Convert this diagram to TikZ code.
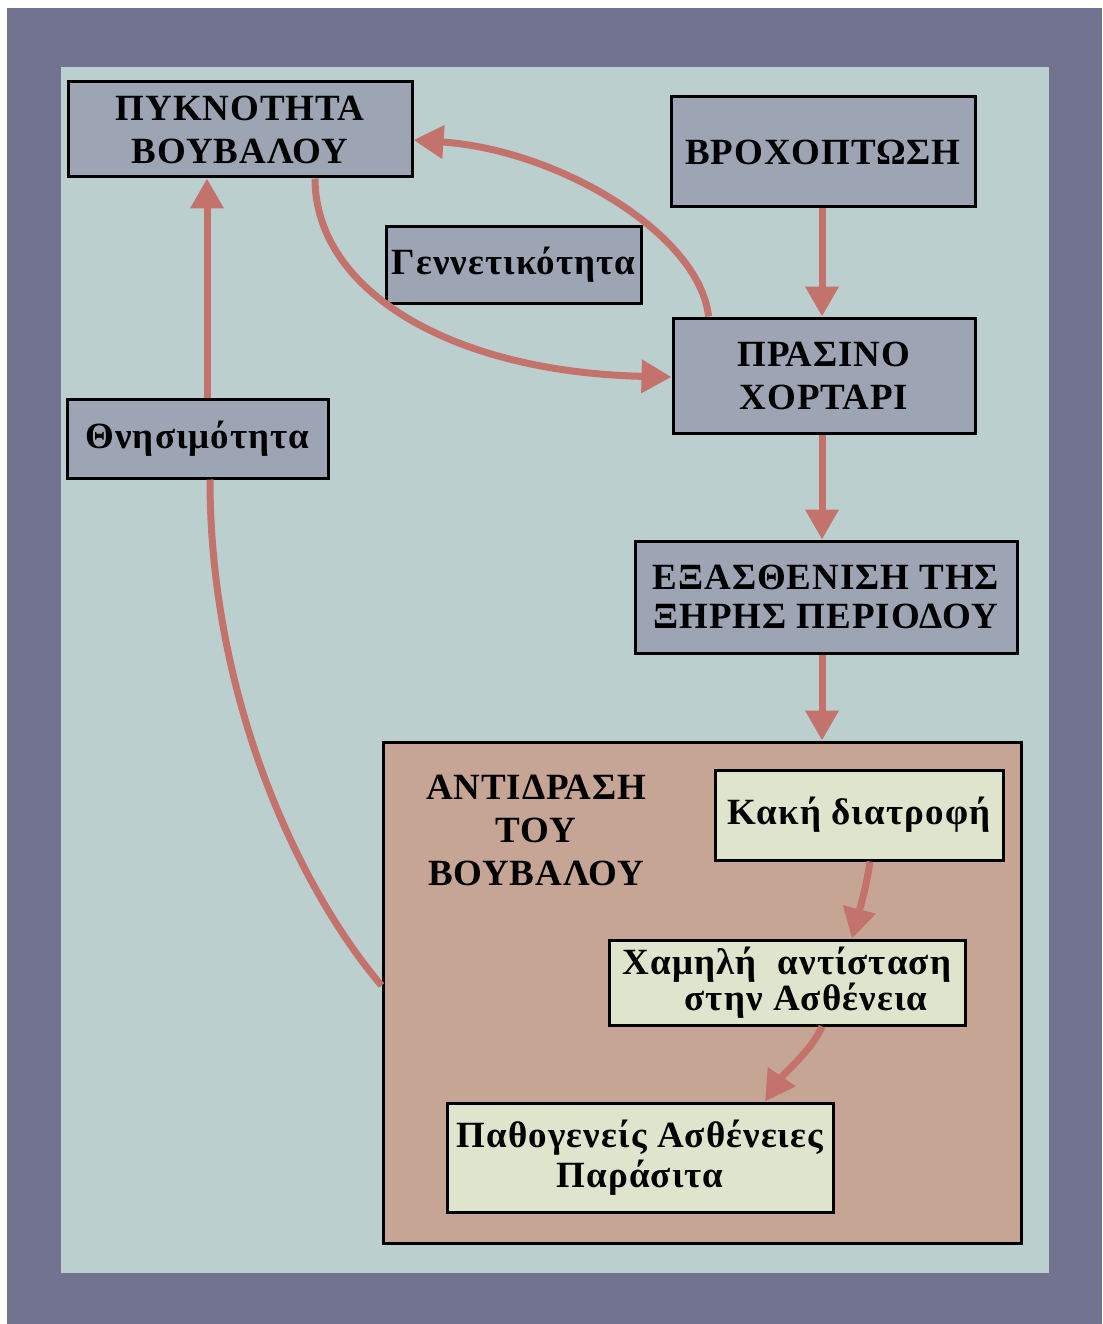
\documentclass[tikz,border=0pt]{standalone}
\usepackage{fontspec}
\setmainfont{Liberation Serif}
\usetikzlibrary{arrows.meta,calc}
\definecolor{outerc}{HTML}{727390}
\definecolor{panelc}{HTML}{BCCFCF}
\definecolor{boxc}{HTML}{9DA5B5}
\definecolor{arrowc}{HTML}{C3736C}
\definecolor{reactc}{HTML}{C6A595}
\definecolor{greenc}{HTML}{DEE5CC}
\tikzset{
  blk/.style={draw=black, line width=3pt, fill=boxc, inner sep=0pt, align=center},
  grn/.style={blk, fill=greenc},
  capsfont/.style={font=\fontsize{37}{43}\selectfont\bfseries\addfontfeatures{LetterSpace=2.5}},
  lowfont/.style={font=\fontsize{37}{40}\selectfont\bfseries\addfontfeatures{LetterSpace=3}},
  arr/.style={draw=arrowc, line width=7pt, -{Triangle[width=32pt,length=30pt]}},
  plainarr/.style={draw=arrowc, line width=7pt},
}
\begin{document}
\begin{tikzpicture}[x=1pt,y=-1pt]
\useasboundingbox (0,0) rectangle (1102,1324);
\fill[white] (0,0) rectangle (1102,1324);
\fill[outerc] (7,8) rectangle (1102,1324);
\fill[panelc] (61,67) rectangle (1049,1273);

\node[blk, capsfont, minimum width=344pt, minimum height=95pt] (density) at (240,129.5) {ΠΥΚΝΟΤΗΤΑ\\ΒΟΥΒΑΛΟΥ};
\node[blk, capsfont, minimum width=304pt, minimum height=110pt] (rain) at (823,152) {ΒΡΟΧΟΠΤΩΣΗ};
\node[blk, lowfont, minimum width=255pt, minimum height=76pt] (birth) at (513.5,265) {Γεννετικότητα};
\node[blk, capsfont, minimum width=302pt, minimum height=115pt] (grass) at (824,375.5) {ΠΡΑΣΙΝΟ\\ΧΟΡΤΑΡΙ};
\node[blk, lowfont, minimum width=261pt, minimum height=79pt] (mort) at (197.5,438.5) {Θνησιμότητα};
\node[blk, capsfont, font=\fontsize{37}{39}\selectfont\bfseries\addfontfeatures{LetterSpace=2.5}, minimum width=382pt, minimum height=112pt] (dry) at (826,597) {ΕΞΑΣΘΕΝΙΣΗ ΤΗΣ\\ΞΗΡΗΣ ΠΕΡΙΟΔΟΥ};
\node[blk, fill=reactc, minimum width=638pt, minimum height=501pt] (react) at (702,992.5) {};
\node[capsfont, align=center, inner sep=0pt] (reacttxt) at (536,830) {ΑΝΤΙΔΡΑΣΗ\\ΤΟΥ\\ΒΟΥΒΑΛΟΥ};
\node[grn, lowfont, minimum width=288pt, minimum height=90pt] (food) at (859,815) {Κακή διατροφή};
\node[grn, lowfont, font=\fontsize{37}{33}\selectfont\bfseries\addfontfeatures{LetterSpace=3}, minimum width=356pt, minimum height=85pt] (resist) at (787,982.5) {Χαμηλή\ \ αντίσταση\\\hspace*{38pt}στην Ασθένεια};
\node[grn, lowfont, minimum width=386pt, minimum height=109pt] (disease) at (640,1157.5) {Παθογενείς Ασθένειες\\Παράσιτα};

\coordinate (colx) at (822,0);
\draw[arr] (rain.south -| colx) -- (grass.north -| colx);
\draw[arr] (grass.south -| colx) -- (dry.north -| colx);
\draw[arr] (dry.south -| colx) -- (react.north -| colx);
\coordinate (leftx) at (207,0);
\draw[arr] (mort.north -| leftx) -- (density.south -| leftx);
\draw[plainarr] ([xshift=12.5pt]mort.south) .. controls (210,700) and (300,890) .. ([yshift=7pt]react.west);
\coordinate (upy) at (0,140);
\coordinate (lowy) at (0,377);
\draw[arr] ([xshift=37pt]grass.north west) .. controls (700,235) and (560,150) .. (density.east |- upy);
\draw[arr] ([xshift=75pt]density.south) .. controls (315,290) and (450,372) .. (grass.west |- lowy);
\draw[arr] ([xshift=11pt]food.south) .. controls (866,890) and (858,915) .. ([xshift=65pt]resist.north);
\draw[arr] ([xshift=35pt]resist.south) .. controls (812,1050) and (785,1072) .. ([xshift=125pt]disease.north);
\end{tikzpicture}
\end{document}
